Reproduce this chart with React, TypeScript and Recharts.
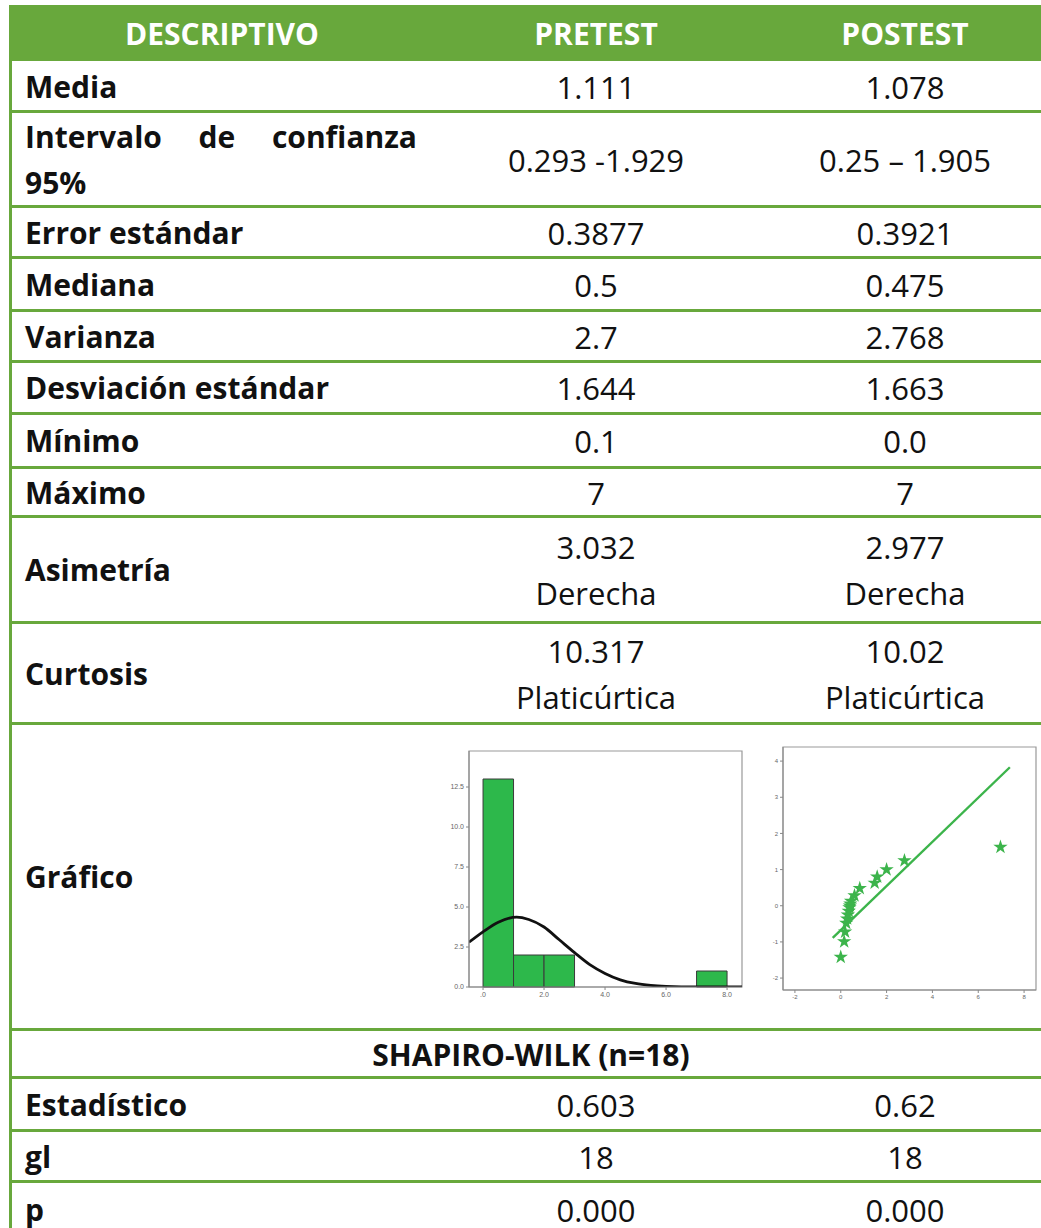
import {
  ComposedChart,
  Line,
  Scatter,
  XAxis,
  YAxis,
  ReferenceArea,
} from "recharts";

const HEADERS = ["DESCRIPTIVO", "PRETEST", "POSTEST"];

const ROW_LABELS = [
  "Media",
  "Intervalo de confianza 95%",
  "Error estándar",
  "Mediana",
  "Varianza",
  "Desviación estándar",
  "Mínimo",
  "Máximo",
  "Asimetría",
  "Curtosis",
];
const PRETEST = ["1.111", "0.293 -1.929", "0.3877", "0.5", "2.7", "1.644", "0.1", "7", "3.032\nDerecha", "10.317\nPlaticúrtica"];
const POSTEST = ["1.078", "0.25 – 1.905", "0.3921", "0.475", "2.768", "1.663", "0.0", "7", "2.977\nDerecha", "10.02\nPlaticúrtica"];

const SW_TITLE = "SHAPIRO-WILK (n=18)";
const SW_LABELS = ["Estadístico", "gl", "p"];
const SW_PRE = ["0.603", "18", "0.000"];
const SW_POST = ["0.62", "18", "0.000"];

// histogram (pretest)
const BINS = [
  { x0: 0, x1: 1, count: 13 },
  { x0: 1, x1: 2, count: 2 },
  { x0: 2, x1: 3, count: 2 },
  { x0: 7, x1: 8, count: 1 },
];
const CURVE_X = [-0.46, 0, 0.5, 1.1, 1.5, 2, 2.5, 3, 3.5, 4, 4.5, 5, 5.5, 6, 7, 8.49];
const CURVE_Y = [2.8, 3.45, 4.05, 4.37, 4.22, 3.75, 2.95, 2.15, 1.4, 0.85, 0.45, 0.22, 0.1, 0.04, 0.0, 0.0];
const HIST_XTICKS = [0, 2, 4, 6, 8];
const HIST_YTICKS = [0, 2.5, 5, 7.5, 10, 12.5];

// normal Q-Q plot (postest)
const QQ_X = [0.0, 0.15, 0.19, 0.24, 0.28, 0.31, 0.35, 0.38, 0.4, 0.42, 0.45, 0.6, 0.83, 1.48, 1.59, 2.0, 2.78, 6.97];
const QQ_Y = [-1.42, -0.99, -0.72, -0.48, -0.36, -0.25, -0.15, -0.05, 0.0, 0.05, 0.13, 0.28, 0.48, 0.63, 0.8, 1.0, 1.25, 1.62];
const QQ_LINE_X = [-0.35, 7.38];
const QQ_LINE_Y = [-0.89, 3.83];
const QQ_XTICKS = [-2, 0, 2, 4, 6, 8];
const QQ_YTICKS = [-2, -1, 0, 1, 2, 3, 4];

// layout
const GREEN = "#68a83c";
const BAR_GREEN = "#2db84b";
const LINE_Y = [61, 111, 206, 257, 310, 361, 413, 467, 516, 622, 723, 1029, 1077, 1130, 1181, 1236];
const COL2 = 596;
const COL3 = 905;
const FONT = "'Open Sans', Lato, sans-serif";
const FS = 30;
const FS_VAL = 31;

const curveData = CURVE_X.map((x, i) => ({ x, y: CURVE_Y[i] }));
const qqData = QQ_X.map((x, i) => ({ x, y: QQ_Y[i] }));
const qqLine = QQ_LINE_X.map((x, i) => ({ x, y: QQ_LINE_Y[i] }));

const tickStyle = { fontSize: 7, fill: "#666", fontFamily: "'Liberation Sans', sans-serif" };

function Histogram() {
  return (
    <ComposedChart
      width={330}
      height={260}
      data={curveData}
      margin={{ top: 11, right: 8, bottom: 0, left: 0 }}
    >
      <XAxis
        type="number"
        dataKey="x"
        domain={[-0.46, 8.49]}
        ticks={HIST_XTICKS}
        allowDataOverflow
        height={13}
        tickSize={3}
        tick={tickStyle}
        stroke="#888"
        tickFormatter={(v: number) => (v === 0 ? ".0" : v.toFixed(1))}
      />
      <YAxis
        type="number"
        domain={[0, 14.75]}
        ticks={HIST_YTICKS}
        allowDataOverflow
        width={49}
        tickSize={3}
        tick={tickStyle}
        stroke="#888"
        tickFormatter={(v: number) => v.toFixed(1)}
      />
      <ReferenceArea x1={-0.46} x2={8.49} y1={0} y2={14.75} fill="none" stroke="#999" strokeWidth={1.2} />
      {BINS.map((b) => (
        <ReferenceArea
          key={b.x0}
          x1={b.x0}
          x2={b.x1}
          y1={0}
          y2={b.count}
          fill={BAR_GREEN}
          fillOpacity={1}
          stroke="#3a3a3a"
          strokeWidth={1}
        />
      ))}
      <Line
        dataKey="y"
        type="monotone"
        stroke="#111"
        strokeWidth={2.8}
        dot={false}
        isAnimationActive={false}
      />
    </ComposedChart>
  );
}

function QQPlot() {
  return (
    <ComposedChart width={281} height={260} margin={{ top: 7, right: 5, bottom: 0, left: 0 }}>
      <XAxis
        type="number"
        dataKey="x"
        domain={[-2.52, 8.52]}
        ticks={QQ_XTICKS}
        allowDataOverflow
        height={10}
        tickSize={3}
        tick={{ ...tickStyle, fontSize: 6 }}
        stroke="#888"
      />
      <YAxis
        type="number"
        dataKey="y"
        domain={[-2.33, 4.39]}
        ticks={QQ_YTICKS}
        allowDataOverflow
        width={23}
        tickSize={3}
        tick={{ ...tickStyle, fontSize: 6 }}
        stroke="#888"
      />
      <ReferenceArea x1={-2.52} x2={8.52} y1={-2.33} y2={4.39} fill="none" stroke="#999" strokeWidth={1.2} />
      <Line
        data={qqLine}
        dataKey="y"
        type="linear"
        stroke="#3cb44b"
        strokeWidth={2.4}
        dot={false}
        isAnimationActive={false}
      />
      <Scatter data={qqData} dataKey="y" shape="star" fill="#3cb44b" isAnimationActive={false} />
    </ComposedChart>
  );
}

function Value({ text, cx, top, h }: { text: string; cx: number; top: number; h: number }) {
  return (
    <div
      style={{
        position: "absolute",
        left: cx - 160,
        width: 320,
        top,
        height: h,
        display: "flex",
        alignItems: "center",
        justifyContent: "center",
        textAlign: "center",
        whiteSpace: "pre-line",
        lineHeight: "46px",
        fontSize: FS_VAL,
        color: "#111",
      }}
    >
      {text}
    </div>
  );
}

function Label({ text, top, h }: { text: string; top: number; h: number }) {
  const multi = text.startsWith("Intervalo");
  return (
    <div
      style={{
        position: "absolute",
        left: 25,
        width: 392,
        top,
        height: h,
        display: "flex",
        flexDirection: "column",
        justifyContent: "center",
        fontSize: FS,
        fontWeight: 700,
        lineHeight: "46px",
        color: "#111",
      }}
    >
      {multi ? (
        <>
          <div style={{ display: "flex", justifyContent: "space-between" }}>
            <span>Intervalo</span>
            <span>de</span>
            <span>confianza</span>
          </div>
          <div>95%</div>
        </>
      ) : (
        text
      )}
    </div>
  );
}

export default function App() {
  const rowBox = (i: number) => ({ top: LINE_Y[i] + 1, h: LINE_Y[i + 1] - LINE_Y[i] });
  const graphIdx = ROW_LABELS.length;
  const swIdx = graphIdx + 1;

  return (
    <div
      style={{
        position: "absolute",
        left: 0,
        top: 0,
        width: 1041,
        height: 1228,
        overflow: "hidden",
        background: "#fff",
        fontFamily: FONT,
      }}
    >
      {/* header */}
      <div style={{ position: "absolute", left: 9, top: 5, width: 1040, height: 56, background: GREEN }} />
      {HEADERS.map((h, i) => (
        <div
          key={h}
          style={{
            position: "absolute",
            left: [222, COL2, COL3][i] - 160,
            width: 320,
            top: 5,
            height: 56,
            display: "flex",
            alignItems: "center",
            justifyContent: "center",
            color: "#fff",
            fontWeight: 700,
            fontSize: FS,
          }}
        >
          {h}
        </div>
      ))}

      {/* left border and row lines */}
      <div style={{ position: "absolute", left: 9, top: 5, width: 3, height: 1240, background: GREEN }} />
      {LINE_Y.slice(1, -1).map((y) => (
        <div key={y} style={{ position: "absolute", left: 9, top: y - 1, width: 1040, height: 3, background: GREEN }} />
      ))}

      {ROW_LABELS.map((lab, i) => {
        const { top, h } = rowBox(i);
        return (
          <div key={lab}>
            <Label text={lab} top={top} h={h} />
            <Value text={PRETEST[i]} cx={COL2} top={top} h={h} />
            <Value text={POSTEST[i]} cx={COL3} top={top} h={h} />
          </div>
        );
      })}

      {/* graph row */}
      <Label text="Gráfico" top={rowBox(graphIdx).top} h={rowBox(graphIdx).h} />
      <div style={{ position: "absolute", left: 420, top: 740 }}>
        <Histogram />
      </div>
      <div style={{ position: "absolute", left: 760, top: 740 }}>
        <QQPlot />
      </div>

      {/* Shapiro-Wilk */}
      <div
        style={{
          position: "absolute",
          left: 12,
          width: 1038,
          top: rowBox(swIdx).top,
          height: rowBox(swIdx).h,
          display: "flex",
          alignItems: "center",
          justifyContent: "center",
          fontWeight: 700,
          fontSize: FS,
          color: "#111",
        }}
      >
        {SW_TITLE}
      </div>
      {SW_LABELS.map((lab, i) => {
        const { top, h } = rowBox(swIdx + 1 + i);
        return (
          <div key={lab}>
            <Label text={lab} top={top} h={h} />
            <Value text={SW_PRE[i]} cx={COL2} top={top} h={h} />
            <Value text={SW_POST[i]} cx={COL3} top={top} h={h} />
          </div>
        );
      })}
    </div>
  );
}
